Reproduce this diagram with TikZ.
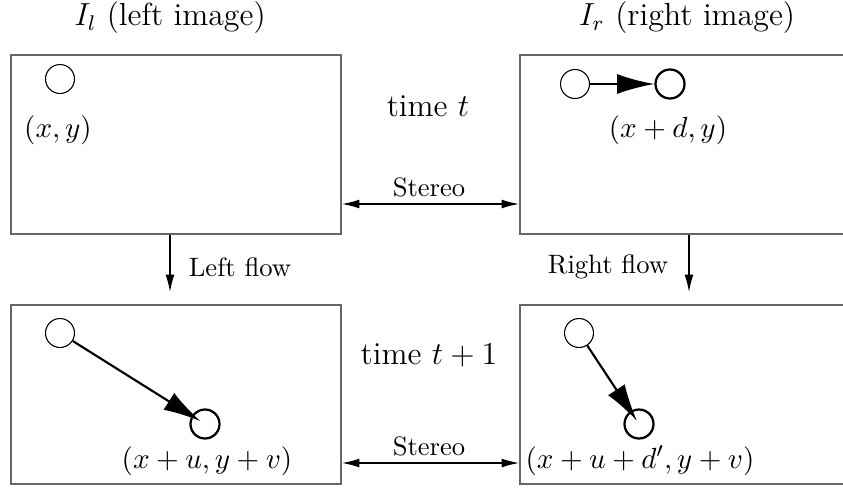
\documentclass[tikz,border=0pt]{standalone}
\usetikzlibrary{arrows.meta}
\begin{document}
\begin{tikzpicture}[x=0.3759pt,y=-0.3759pt,
  imgbox/.style={draw=black!60,line width=0.7pt,rectangle,inner sep=0pt,anchor=north west},
  dotstart/.style={circle,draw,line width=0.4pt,minimum size=10.9pt,inner sep=0pt},
  dotend/.style={circle,draw,line width=0.85pt,minimum size=10.9pt,inner sep=0pt},
  motion/.style={line width=0.8pt,-{Latex[length=14pt,width=7.5pt]}},
  link/.style={line width=0.45pt,{Latex[length=6.5pt,width=3.3pt]}-{Latex[length=6.5pt,width=3.3pt]}},
  flow/.style={line width=0.45pt,-{Latex[length=6.5pt,width=3.3pt]},shorten >=4.5pt},
  bigtext/.style={font=\large,inner sep=0pt},
  smalltext/.style={font=\normalsize,inner sep=0pt},
  coordtext/.style={font=\fontsize{11}{13}\selectfont,inner sep=0pt}]
\useasboundingbox (0,0) rectangle (843,489);
% boxes
\node[imgbox,minimum width=124.1pt,minimum height=67.3pt] (tl) at (10,54) {};
\node[imgbox,minimum width=122.3pt,minimum height=67.3pt] (tr) at (519,54) {};
\node[imgbox,minimum width=124.1pt,minimum height=67.3pt] (bl) at (10,304) {};
\node[imgbox,minimum width=122.3pt,minimum height=67.3pt] (br) at (519,304) {};
% titles
\node[bigtext] (til) at (170,18) {$I_l$ (left image)};
\node[bigtext] (tir) at (687,18) {$I_r$ (right image)};
\node[bigtext] (tt) at (428,106) {time $t$};
\node[bigtext] (tt1) at (429,355) {time $t+1$};
% circles
\node[dotstart] (a1) at (60,79) {};
\node[coordtext] (la1) at (58,130) {$(x,y)$};
\node[dotstart] (b1) at (575,84) {};
\node[dotend] (b2) at (670,84) {};
\node[coordtext] (lb2) at (668,130) {$(x+d,y)$};
\draw[motion] (b1) -- (b2);
\node[dotstart] (c1) at (60,333) {};
\node[dotend] (c2) at (205,424) {};
\node[coordtext] (lc2) at (207,461) {$(x+u,y+v)$};
\draw[motion,shorten >=2pt] (c1) -- (c2.center);
\node[dotstart] (d1) at (579,333) {};
\node[dotend] (d2) at (639,424) {};
\node[coordtext] (ld2) at (640,461) {$(x+u+d',y+v)$};
\draw[motion,shorten >=1.4pt] (d1) -- (d2.center);
% stereo links
\coordinate (s1) at (0,204);
\coordinate (s2) at (0,463);
\draw[link] (tl.east |- s1) -- (tr.west |- s1);
\draw[link] (bl.east |- s2) -- (br.west |- s2);
\node[smalltext] (st1) at (429,187) {Stereo};
\node[smalltext] (st2) at (429,446) {Stereo};
% flows
\coordinate (lf) at (170,0);
\coordinate (rf) at (689,0);
\draw[flow] (tl.south -| lf) -- (bl.north -| lf);
\draw[flow] (tr.south -| rf) -- (br.north -| rf);
\node[smalltext] (lfl) at (240,267) {Left flow};
\node[smalltext] (rfl) at (608,267) {Right flow};
\end{tikzpicture}
\end{document}
